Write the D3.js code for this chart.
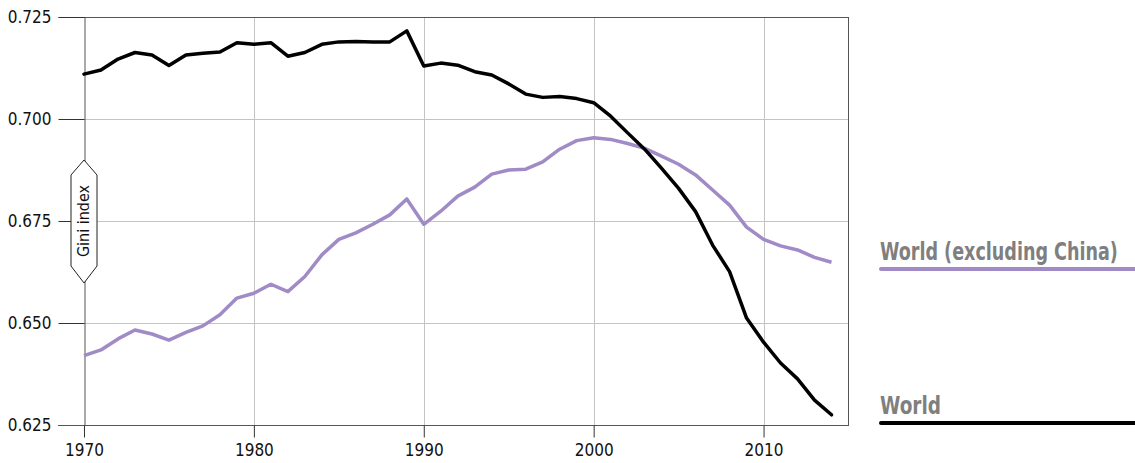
<!DOCTYPE html>
<html>
<head>
<meta charset="utf-8">
<script src="https://cdn.jsdelivr.net/npm/d3@7"></script>
<style>
  body { margin: 0; background: #fff; }
  svg text { font-family: "DejaVu Sans Condensed", "DejaVu Sans", sans-serif; font-stretch: condensed; }
</style>
</head>
<body>
<script>
// Gini index, World vs World excluding China
const years = d3.range(1970, 2015);
const world = [
  0.7110, 0.7120, 0.7147, 0.7163, 0.7157, 0.7131, 0.7157, 0.7161, 0.7164, 0.7187,
  0.7183, 0.7187, 0.7154, 0.7163, 0.7183, 0.7189, 0.7190, 0.7189, 0.7189, 0.7216,
  0.7130, 0.7137, 0.7132, 0.7116, 0.7108, 0.7086, 0.7061, 0.7053, 0.7055, 0.7050,
  0.7040, 0.7007, 0.6966, 0.6926, 0.6879, 0.6830, 0.6773, 0.6691, 0.6626, 0.6512,
  0.6453, 0.6402, 0.6363, 0.6311, 0.6275
];
const worldExChina = [
  0.6420, 0.6434, 0.6461, 0.6483, 0.6473, 0.6458, 0.6477, 0.6493, 0.6520, 0.6561,
  0.6573, 0.6595, 0.6577, 0.6614, 0.6667, 0.6705, 0.6721, 0.6742, 0.6765, 0.6804,
  0.6742, 0.6774, 0.6811, 0.6833, 0.6865, 0.6875, 0.6877, 0.6895, 0.6926, 0.6947,
  0.6954, 0.6950, 0.6940, 0.6928, 0.6909, 0.6889, 0.6863, 0.6826, 0.6789, 0.6735,
  0.6705, 0.6689, 0.6679, 0.6661, 0.6649
];
const yTicks = [0.625, 0.650, 0.675, 0.700, 0.725];
const xTicks = [1970, 1980, 1990, 2000, 2010];
const seriesNames = ["World (excluding China)", "World"];

const W = 1135, H = 463;
const svg = d3.select("body").append("svg")
  .attr("width", W)
  .attr("height", H);

const pL = 84, pR = 848, pT = 17, pB = 425;

const x = d3.scaleLinear().domain([1970, 2015]).range([pL, pR + 0.5]);
const y = d3.scaleLinear().domain([0.625, 0.725]).range([pB, pT]);

// grid
svg.append("g")
  .selectAll("line")
  .data(xTicks.slice(1))
  .enter().append("line")
    .attr("x1", d => Math.round(x(d)) + 0.5)
    .attr("x2", d => Math.round(x(d)) + 0.5)
    .attr("y1", pT)
    .attr("y2", pB)
    .attr("stroke", "#c4c4c4")
    .attr("stroke-width", 1);

svg.append("g")
  .selectAll("line")
  .data(yTicks.slice(1, -1))
  .enter().append("line")
    .attr("x1", pL)
    .attr("x2", pR)
    .attr("y1", d => Math.round(y(d)) + 0.5)
    .attr("y2", d => Math.round(y(d)) + 0.5)
    .attr("stroke", "#c4c4c4")
    .attr("stroke-width", 1);

// frame: top + right borders
svg.append("line")
  .attr("x1", pL).attr("x2", pR)
  .attr("y1", pT + 0.5).attr("y2", pT + 0.5)
  .attr("stroke", "#555");
svg.append("line")
  .attr("x1", pR + 0.5).attr("x2", pR + 0.5)
  .attr("y1", pT).attr("y2", pB)
  .attr("stroke", "#555");

// y axis
const yAxis = svg.append("g")
  .attr("transform", `translate(${pL + 0.5},0)`)
  .call(d3.axisLeft(y).tickValues(yTicks).tickFormat(d3.format(".3f")).tickSize(26).tickPadding(7));
yAxis.select(".domain").attr("stroke", "#555");
yAxis.selectAll(".tick line").attr("stroke", "#333");
yAxis.selectAll(".tick text")
  .attr("font-size", "17px")
  .attr("fill", "#111")
  .attr("font-family", null);

// x axis
const xAxis = svg.append("g")
  .attr("transform", `translate(0,${pB + 0.5})`)
  .call(d3.axisBottom(x).tickValues(xTicks).tickFormat(d3.format("d")).tickSize(12).tickPadding(6).tickSizeOuter(0));
xAxis.select(".domain").attr("stroke", "#555").attr("d", `M${pL - 26},0H${pR + 1}`);
xAxis.selectAll(".tick line").attr("stroke", "#333");
xAxis.selectAll(".tick text")
  .attr("font-size", "17px")
  .attr("fill", "#111")
  .attr("font-family", null);

// lines
const line = d3.line()
  .x((d, i) => x(years[i]))
  .y(d => y(d));

svg.append("path")
  .datum(worldExChina)
  .attr("fill", "none")
  .attr("stroke", "#a08bc6")
  .attr("stroke-width", 3.5)
  .attr("stroke-linejoin", "round")
  .attr("d", line);

svg.append("path")
  .datum(world)
  .attr("fill", "none")
  .attr("stroke", "#000")
  .attr("stroke-width", 3.5)
  .attr("stroke-linejoin", "round")
  .attr("stroke-linecap", "round")
  .attr("d", line);

// y label box "Gini index"
const bx = pL, by = 221;
svg.append("path")
  .attr("d", `M${bx},${by - 61} L${bx + 13},${by - 46} L${bx + 13},${by + 45} L${bx},${by + 62} L${bx - 13},${by + 45} L${bx - 13},${by - 46} Z`)
  .attr("fill", "#fff")
  .attr("stroke", "#222")
  .attr("stroke-width", 1);
svg.append("text")
  .attr("transform", `translate(${bx + 5},${by}) rotate(-90)`)
  .attr("text-anchor", "middle")
  .attr("font-size", "16px")
  .attr("fill", "#111")
  .text("Gini index");

// legend (text squeezed horizontally to the narrow face of the original)
const legendY = [269, 423];
const legendCol = ["#a08bc6", "#000"];
const legendW = [238, 61];
seriesNames.forEach((name, i) => {
  const t = svg.append("text")
    .attr("font-size", "25px")
    .attr("font-weight", "bold")
    .attr("fill", "#7f7f7f")
    .text(name);
  const w = t.node().getComputedTextLength();
  t.attr("transform", `translate(880,${legendY[i] - 9}) scale(${legendW[i] / w},1)`);
  svg.append("line")
    .attr("x1", 881)
    .attr("x2", W)
    .attr("y1", legendY[i])
    .attr("y2", legendY[i])
    .attr("stroke", legendCol[i])
    .attr("stroke-width", 4)
    .attr("stroke-linecap", "round");
});
</script>
</body>
</html>
